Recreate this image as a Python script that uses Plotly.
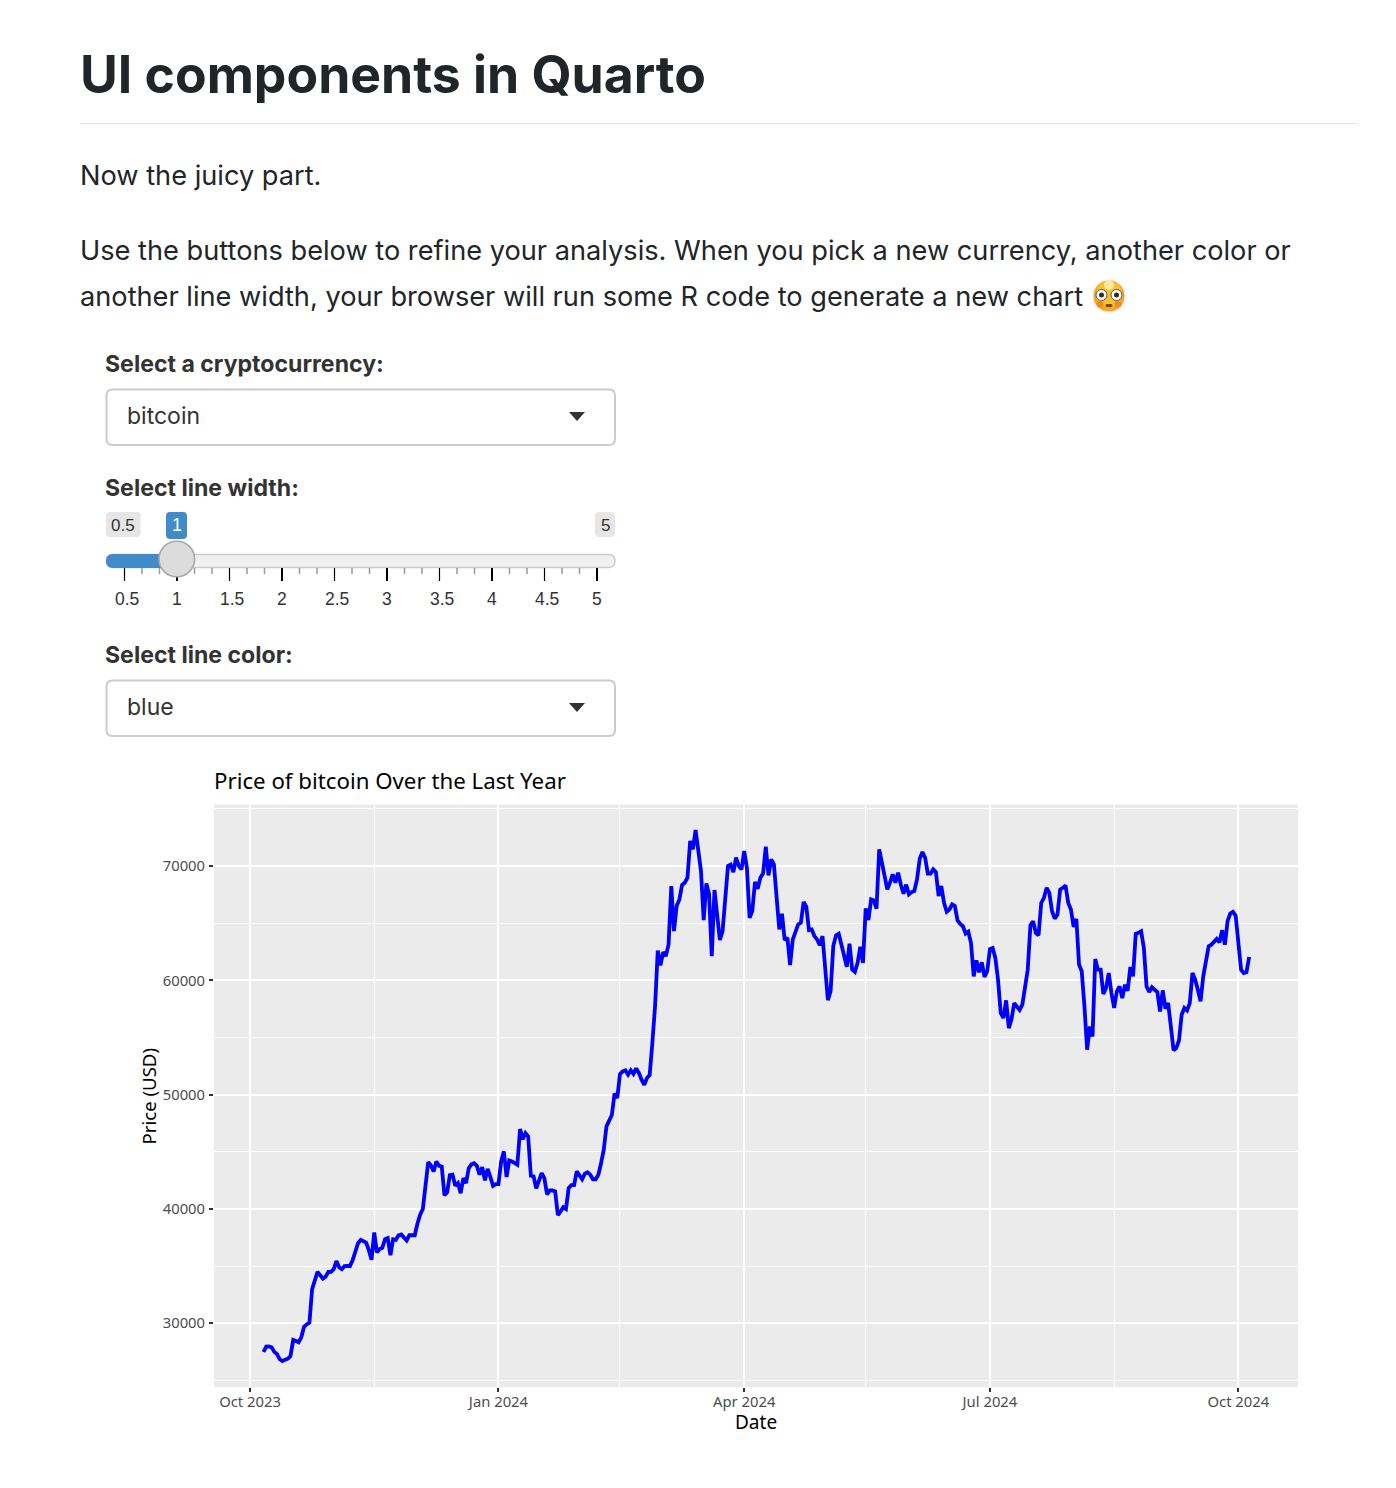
import pandas as pd
import plotly.graph_objects as go

W, H = 1396, 1488

# Daily closing price of bitcoin in USD, one value per day from the first date below
first_day = "2023-10-06"
prices = [
    27490, 27960, 27980, 27900, 27500, 27300, 26850, 26700, 26800, 26900, 27140, 28540,
    28450, 28340, 28770, 29700, 29900, 30050, 32980, 33800, 34500, 34200, 33900, 34080,
    34500, 34500, 34730, 35450, 34900, 34730, 35000, 35020, 35000, 35500, 36300, 37000,
    37300, 37150, 37060, 36400, 35550, 37940, 36200, 36500, 36600, 37350, 37450, 35950,
    37350, 37300, 37700, 37770, 37500, 37240, 37700, 37720, 37700, 38700, 39500, 40000,
    41970, 44100, 43800, 43280, 44160, 43780, 43720, 41200, 41450, 42960, 43000, 42030,
    42260, 41380, 42700, 42260, 43570, 43900, 44000, 43780, 43000, 43660, 42500, 43500,
    42800, 42030, 42180, 42180, 44160, 45040, 42790, 44250, 44160, 44000, 43870, 46990,
    46100, 46640, 46350, 42900, 42850, 41800, 42550, 43140, 42700, 41270, 41620, 41620,
    41530, 39460, 39780, 40160, 40000, 41820, 42090, 42090, 43290, 42930, 42600, 43080,
    43200, 43000, 42600, 42600, 43000, 44000, 45180, 47230, 47750, 48220, 50090, 49700,
    51800, 52040, 52130, 51750, 52130, 51810, 52300, 51900, 51310, 50850, 51460, 51720,
    54530, 57740, 62610, 61300, 62470, 62120, 63140, 68250, 64310, 66500, 67080, 68340,
    68540, 68980, 72190, 71460, 73150, 71460, 69560, 65270, 68480, 67520, 62120, 67900,
    65620, 63520, 64310, 67370, 70000, 70120, 69470, 70730, 70000, 69700, 71310, 69850,
    65470, 66060, 68600, 68010, 68980, 69360, 71690, 69180, 70580, 70150, 67080, 64450,
    65820, 63520, 63720, 61330, 63580, 64160, 64890, 65040, 66850, 66440, 64390, 64450,
    63870, 63580, 63080, 63870, 60660, 58260, 59050, 62990, 63930, 64070, 63140, 62180,
    61180, 63200, 60950, 60740, 61530, 62930, 61530, 66290, 65270, 67080, 66990, 66260,
    71460, 70290, 69070, 67960, 68540, 69270, 68540, 69420, 68390, 67580, 68370, 67520,
    67720, 67810, 68830, 70640, 71230, 70730, 69330, 69330, 69710, 69470, 67370, 68250,
    66790, 66000, 66200, 66640, 66500, 65240, 64930, 64730, 64090, 64260, 63270, 60350,
    61750, 60700, 61580, 60290, 60790, 62740, 62830, 61960, 60060, 57140, 56700, 58250,
    55820, 56610, 58010, 57720, 57400, 57870, 59180, 60930, 64820, 65170, 64150, 63940,
    66770, 67210, 68090, 67650, 66040, 65400, 65750, 67940, 68090, 68290, 66770, 66190,
    64670, 65370, 61370, 60790, 57720, 53930, 55970, 55090, 61870, 60930, 60930, 58800,
    59330, 60640, 58890, 57580, 59040, 59470, 58450, 59620, 59090, 61170, 60350, 64060,
    64150, 64290, 62830, 59470, 58980, 59390, 59180, 58980, 57280, 59120, 57520, 58010,
    55970, 53870, 54070, 54740, 56990, 57580, 57370, 58010, 60640, 60060, 59180, 58160,
    60350, 61520, 62980, 63120, 63420, 63620, 63330, 64380, 63120, 65170, 65840, 65990,
    65660, 63270, 60930, 60640, 60700, 62040,
]
dates = pd.date_range(first_day, periods=len(prices), freq="D")

# Axis ticks
x_tick_dates = ["2023-10-01", "2024-01-01", "2024-04-01", "2024-07-01", "2024-10-01"]
x_tick_labels = ["Oct 2023", "Jan 2024", "Apr 2024", "Jul 2024", "Oct 2024"]
x_minor_dates = ["2023-11-16", "2024-02-15", "2024-05-16", "2024-08-16"]
y_ticks = [30000, 40000, 50000, 60000, 70000]
y_minor = [25000, 35000, 45000, 55000, 65000, 75000]

# Slider scale
slider_labels = ["0.5", "1", "1.5", "2", "2.5", "3", "3.5", "4", "4.5", "5"]

UI_FONT = "Inter"
SLIDER_FONT = "Liberation Sans"
CHART_FONT = "Noto Sans"


def px(x):
    return x / W


def py(y):
    return 1 - y / H


def text(x, y, s, size, color="#212529", weight=400, anchor="left", family=UI_FONT, angle=0):
    return dict(
        x=px(x - 2 if anchor == "left" else x), y=py(y), xref="paper", yref="paper", text=s,
        showarrow=False, xanchor=anchor, yanchor="middle", textangle=angle,
        font=dict(family=family, size=size, color=color, weight=weight),
    )


def line(x0, y0, x1, y1, color, width):
    return dict(type="line", xref="paper", yref="paper",
                x0=px(x0), y0=py(y0), x1=px(x1), y1=py(y1),
                line=dict(color=color, width=width), layer="above")


def rounded(x0, y0, x1, y1, r, fill, border=None, width=0):
    d = (
        f"M {px(x0 + r)} {py(y0)} L {px(x1 - r)} {py(y0)} Q {px(x1)} {py(y0)} {px(x1)} {py(y0 + r)} "
        f"L {px(x1)} {py(y1 - r)} Q {px(x1)} {py(y1)} {px(x1 - r)} {py(y1)} "
        f"L {px(x0 + r)} {py(y1)} Q {px(x0)} {py(y1)} {px(x0)} {py(y1 - r)} "
        f"L {px(x0)} {py(y0 + r)} Q {px(x0)} {py(y0)} {px(x0 + r)} {py(y0)} Z"
    )
    return dict(type="path", path=d, xref="paper", yref="paper", fillcolor=fill,
                line=dict(color=border or fill, width=width), layer="above")


def triangle(cx, top, half, h, color):
    d = f"M {px(cx - half)} {py(top)} L {px(cx + half)} {py(top)} L {px(cx)} {py(top + h)} Z"
    return dict(type="path", path=d, xref="paper", yref="paper", fillcolor=color,
                line=dict(width=0), layer="above")


def circle(cx, cy, r, fill, border=None, width=0):
    return dict(type="circle", xref="paper", yref="paper",
                x0=px(cx - r), x1=px(cx + r), y0=py(cy - r), y1=py(cy + r),
                fillcolor=fill, line=dict(color=border or fill, width=width), layer="above")


fig = go.Figure(
    go.Scatter(x=dates, y=prices, mode="lines", line=dict(color="#0000ff", width=3.8),
               hovertemplate="%{x|%b %d, %Y}<br>%{y}<extra></extra>")
)

annotations = [
    text(80, 74.5, "UI components in Quarto", 51.7, weight=700),
    text(80, 175.3, "Now the juicy part.", 27.2),
    text(80, 250.3, "Use the buttons below to refine your analysis. When you pick a new currency, another color or", 27.2),
    text(80, 296.3, "another line width, your browser will run some R code to generate a new chart", 27.2),
    text(105, 364, "Select a cryptocurrency:", 23.1, color="#333333", weight=700),
    text(127, 416, "bitcoin", 23, color="#333333"),
    text(105, 488, "Select line width:", 23.1, color="#333333", weight=700),
    text(105, 655, "Select line color:", 23.1, color="#333333", weight=700),
    text(127, 707, "blue", 23, color="#333333"),
    text(123, 525, "0.5", 17, color="#333333", anchor="center", family=SLIDER_FONT),
    text(176.5, 525, "1", 18, color="#ffffff", anchor="center", family=SLIDER_FONT),
    text(605, 525, "5", 17, color="#333333", anchor="center", family=SLIDER_FONT),
    text(214, 780.5, "Price of bitcoin Over the Last Year", 22.25, color="#000000", family=CHART_FONT),
    text(147.5, 1096, "Price (USD)", 18.6, color="#000000", anchor="center", family=CHART_FONT, angle=-90),
    text(756, 1421.5, "Date", 19, color="#000000", anchor="center", family=CHART_FONT),
]

# Slider tick positions run evenly from 0.5 to 5
slider_left, slider_right = 124.5, 597.0
step = (slider_right - slider_left) / (len(slider_labels) - 1)
for i, label in enumerate(slider_labels):
    x = slider_left + i * step
    nudge = 2.5 if "." in label else 0
    annotations.append(text(x + nudge, 599, label, 17.5, color="#333333", anchor="center", family=SLIDER_FONT))

shapes = [
    line(80, 123.5, 1358, 123.5, "#e6e6e6", 1),
    rounded(106.5, 389.5, 615, 445, 6, "#ffffff", "#cccccc", 2),
    triangle(577, 412, 8, 9, "#333333"),
    rounded(106.5, 680.5, 615, 736, 6, "#ffffff", "#cccccc", 2),
    triangle(577, 703, 8, 9, "#333333"),
    rounded(106, 512, 140.5, 537, 4, "#e6e6e6"),
    rounded(595, 512, 615, 537, 4, "#e6e6e6"),
    rounded(166, 512, 187, 539, 4, "#428bca"),
    rounded(106.5, 554.5, 615, 567.5, 6.5, "#f0f0f0", "#cccccc", 1.5),
    rounded(106, 554, 177, 568, 7, "#428bca"),
]
for i in range(len(slider_labels)):
    x = slider_left + i * step
    shapes.append(line(x, 568, x, 581, "#000000", 2 if slider_labels[i] in ("1", "2", "3", "4", "5") else 1.2))
    if i < len(slider_labels) - 1:
        for k in (1, 2):
            xm = x + k * step / 3
            shapes.append(line(xm, 568, xm, 574, "#999999", 1.5))
shapes.append(circle(176.8, 559, 17.8, "#dcdcdc", "#aaaaaa", 1.6))

# Flushed face that closes the second sentence
shapes += [
    circle(1109, 296, 16, "#f6a623", "#e8e8e8", 1),
    circle(1109, 294, 13, "#fbc02d"),
    circle(1109, 285, 5, "#fde6a0"),
    circle(1101.5, 295, 5.5, "#ffffff", "#555555", 1),
    circle(1116.5, 295, 5.5, "#ffffff", "#555555", 1),
    circle(1101.5, 295, 2.5, "#3a2a20"),
    circle(1116.5, 295, 2.5, "#3a2a20"),
    circle(1100, 304, 3.5, "#f08a24"),
    circle(1118, 304, 3.5, "#f08a24"),
    rounded(1105.5, 304, 1112.5, 307, 1.5, "#7a4a10"),
]

fig.update_layout(
    width=W, height=H, margin=dict(l=0, r=0, t=0, b=0),
    paper_bgcolor="#ffffff", plot_bgcolor="#ebebeb", showlegend=False,
    annotations=annotations, shapes=shapes,
    font=dict(family=CHART_FONT),
    xaxis=dict(
        domain=[px(214), px(1298)],
        range=["2023-09-17 16:00", "2024-10-23 02:00"],
        tickmode="array", tickvals=x_tick_dates, ticktext=x_tick_labels,
        ticks="outside", ticklen=4, tickwidth=1.5, tickcolor="#333333",
        ticklabelstandoff=-3,
        tickfont=dict(family=CHART_FONT, size=14.8, color="#4d4d4d"),
        showgrid=True, gridcolor="#ffffff", gridwidth=1.6, zeroline=False, showline=False,
        minor=dict(tickmode="array", tickvals=x_minor_dates, showgrid=True,
                   gridcolor="#ffffff", gridwidth=0.9, ticks=""),
    ),
    yaxis=dict(
        domain=[py(1387.3), py(804.5)],
        range=[24400, 75380],
        tickmode="array", tickvals=y_ticks, ticktext=[str(v) for v in y_ticks],
        ticks="outside", ticklen=4, tickwidth=1.5, tickcolor="#333333",
        ticklabelstandoff=1,
        tickfont=dict(family=CHART_FONT, size=14.8, color="#4d4d4d"),
        showgrid=True, gridcolor="#ffffff", gridwidth=1.6, zeroline=False, showline=False,
        minor=dict(tickmode="array", tickvals=y_minor, showgrid=True,
                   gridcolor="#ffffff", gridwidth=0.9, ticks=""),
    ),
)

fig.write_html("out.html")
